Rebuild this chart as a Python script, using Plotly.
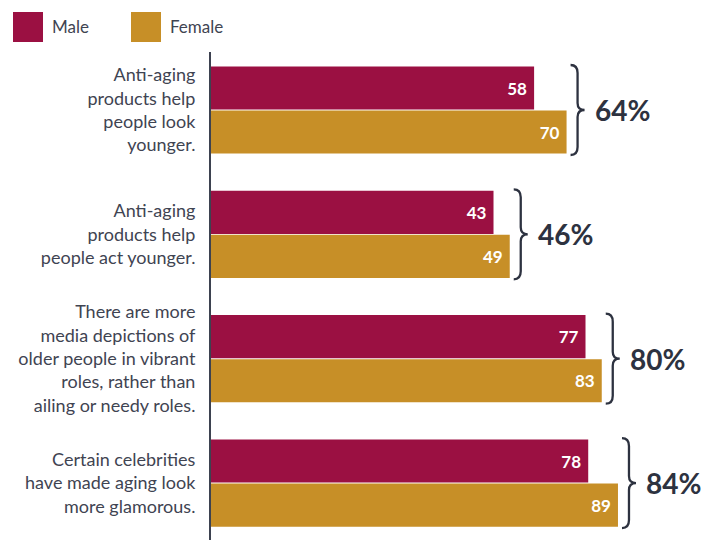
import plotly.graph_objects as go

# Survey statements (top to bottom) and shares agreeing, by gender
statements = [
    "Anti-aging<br>products help<br>people look<br>younger.",
    "Anti-aging<br>products help<br>people act younger.",
    "There are more<br>media depictions of<br>older people in vibrant<br>roles, rather than<br>ailing or needy roles.",
    "Certain celebrities<br>have made aging look<br>more glamorous.",
]
male = [58, 43, 77, 78]
female = [70, 49, 83, 89]
overall = ["64%", "46%", "80%", "84%"]

MALE_COLOR = "#9b1042"
FEMALE_COLOR = "#c78f27"
TEXT_COLOR = "#3f4452"
DARK = "#2d3240"
FONT = "Lato"

W, H = 715, 540
M_L, M_R, M_T, M_B = 211, 0, 52, 0
PLOT_W = W - M_L - M_R
PLOT_H = H - M_T - M_B

# value axis: bars grow from a common baseline at the left edge of the plot
X_START = -61.4
PX_PER_UNIT = 2.706
X_END = X_START + PLOT_W / PX_PER_UNIT

cat_idx = list(range(len(statements)))


def bar_trace(vals, name, color):
    return go.Bar(
        y=cat_idx,
        x=[v - X_START for v in vals],
        base=X_START,
        orientation="h",
        name=name,
        marker=dict(color=color, line=dict(width=0)),
        text=[str(v) for v in vals],
        texttemplate="%{text}\u00a0",
        textposition="inside",
        insidetextanchor="end",
        textangle=0,
        textfont=dict(family=FONT, size=17, color="white", weight=700),
        hoverinfo="skip",
        showlegend=False,
    )


fig = go.Figure([bar_trace(male, "Male", MALE_COLOR),
                 bar_trace(female, "Female", FEMALE_COLOR)])

# curly brace spanning each pair of bars, with the overall share beside it
brace = ("M 4,45 Q 11,45 11,37 L 11,7 Q 11,0 18,0 "
         "Q 11,0 11,-7 L 11,-37 Q 11,-45 4,-45")
shapes = []
annotations = []
for i, (m, f, pct) in enumerate(zip(male, female, overall)):
    top = max(m, f)
    shapes.append(dict(
        type="path", path=brace,
        xref="x", yref="y", xsizemode="pixel", ysizemode="pixel",
        xanchor=top, yanchor=i,
        line=dict(color=DARK, width=2.3),
    ))
    annotations.append(dict(
        x=top, y=i, xref="x", yref="y", xanchor="left", yanchor="middle",
        xshift=26, text=f"<b>{pct}</b>", showarrow=False,
        font=dict(family=FONT, size=28, color=DARK),
    ))


def px_x(px):
    return (px - M_L) / PLOT_W


def px_y(py):
    return (H - M_B - py) / PLOT_H


# legend: large colour swatches with labels
for name, color, x0 in [("Male", MALE_COLOR, 13), ("Female", FEMALE_COLOR, 131)]:
    shapes.append(dict(
        type="rect", xref="paper", yref="paper",
        x0=px_x(x0), x1=px_x(x0 + 30), y0=px_y(42), y1=px_y(12),
        fillcolor=color, line=dict(width=0),
    ))
    annotations.append(dict(
        x=px_x(x0 + 37), y=px_y(27), xref="paper", yref="paper",
        xanchor="left", yanchor="middle", text=name, showarrow=False,
        font=dict(family=FONT, size=17, color=TEXT_COLOR),
    ))

fig.update_layout(
    width=W, height=H,
    margin=dict(l=M_L, r=M_R, t=M_T, b=M_B, pad=0),
    paper_bgcolor="white", plot_bgcolor="white",
    barmode="group", bargap=0.292, bargroupgap=0.02,
    shapes=shapes, annotations=annotations,
    xaxis=dict(range=[X_START, X_END], visible=False, fixedrange=True),
    yaxis=dict(
        range=[3.458, -0.4665],
        tickmode="array", tickvals=cat_idx, ticktext=statements,
        ticks="", ticklabelstandoff=10,
        tickfont=dict(family=FONT, size=18, color=TEXT_COLOR),
        showline=True, linecolor="#3d4250", linewidth=2,
        showgrid=False, zeroline=False, fixedrange=True,
    ),
)

fig.write_html("out.html")
